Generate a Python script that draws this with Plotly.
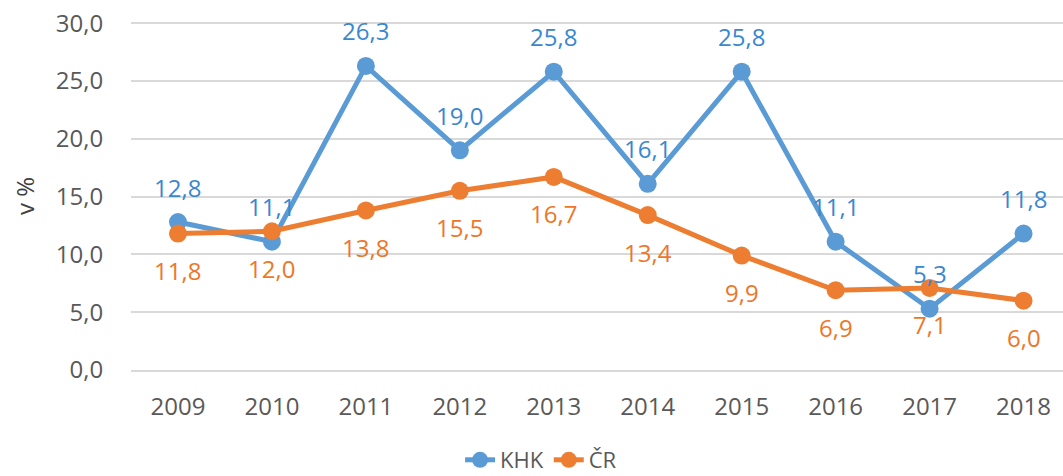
import plotly.graph_objects as go

years = ["2009", "2010", "2011", "2012", "2013", "2014", "2015", "2016", "2017", "2018"]
khk = [12.8, 11.1, 26.3, 19.0, 25.8, 16.1, 25.8, 11.1, 5.3, 11.8]
cr = [11.8, 12.0, 13.8, 15.5, 16.7, 13.4, 9.9, 6.9, 7.1, 6.0]
y_ticks = [0, 5, 10, 15, 20, 25, 30]

BLUE = "#5B9BD5"
ORANGE = "#ED7D31"
BLUE_TXT = "#3A87CF"
ORANGE_TXT = "#EE7628"
FONT = "Open Sans"
FS = 24

def fmt(v):
    return f"{v:.1f}".replace(".", ",")

W, H = 1063, 476

fig = go.Figure()
fig.add_trace(go.Scatter(x=years, y=khk, mode="lines+markers", name="KHK",
                         line=dict(color=BLUE, width=5),
                         marker=dict(color=BLUE, size=18)))
fig.add_trace(go.Scatter(x=years, y=cr, mode="lines+markers", name="ČR",
                         line=dict(color=ORANGE, width=5),
                         marker=dict(color=ORANGE, size=18)))

for i, v in enumerate(khk):
    fig.add_annotation(x=i, y=v, xref="x", yref="y", text=fmt(v), showarrow=False,
                       yshift=35, font=dict(family=FONT, size=FS, color=BLUE_TXT))
for i, v in enumerate(cr):
    fig.add_annotation(x=i, y=v, xref="x", yref="y", text=fmt(v), showarrow=False,
                       yshift=-37, font=dict(family=FONT, size=FS, color=ORANGE_TXT))

fig.update_layout(
    width=W, height=H,
    margin=dict(l=131, r=0, t=22, b=106, autoexpand=False),
    plot_bgcolor="white", paper_bgcolor="white",
    font=dict(family=FONT, size=FS, color="#595959"),
    showlegend=True,
    legend=dict(orientation="h", x=0.509, xanchor="center", y=16 / H, yanchor="middle",
                yref="container", xref="container",
                font=dict(size=22, color="#595959"),
                traceorder="normal"),
    xaxis=dict(type="category", range=[-0.5, 9.42], showgrid=False,
               showline=True, linecolor="#d9d9d9", linewidth=1.5,
               ticks="outside", ticklen=14, tickcolor="rgba(0,0,0,0)",
               tickfont=dict(size=FS, color="#595959")),
    yaxis=dict(range=[0, 30.1], tickvals=y_ticks,
               ticktext=[fmt(v) for v in y_ticks],
               ticklabeloverflow="allow",
               showgrid=True, gridcolor="#d9d9d9", gridwidth=1.5,
               zeroline=False, ticks="outside", ticklen=22,
               tickcolor="rgba(0,0,0,0)",
               tickfont=dict(size=FS, color="#595959"),
               title=dict(text="v %", font=dict(size=FS, color="#404040"), standoff=14)),
)

fig.write_html("out.html", config={"displayModeBar": False},
               post_script="document.body.style.margin='0';document.body.style.overflow='hidden';")
